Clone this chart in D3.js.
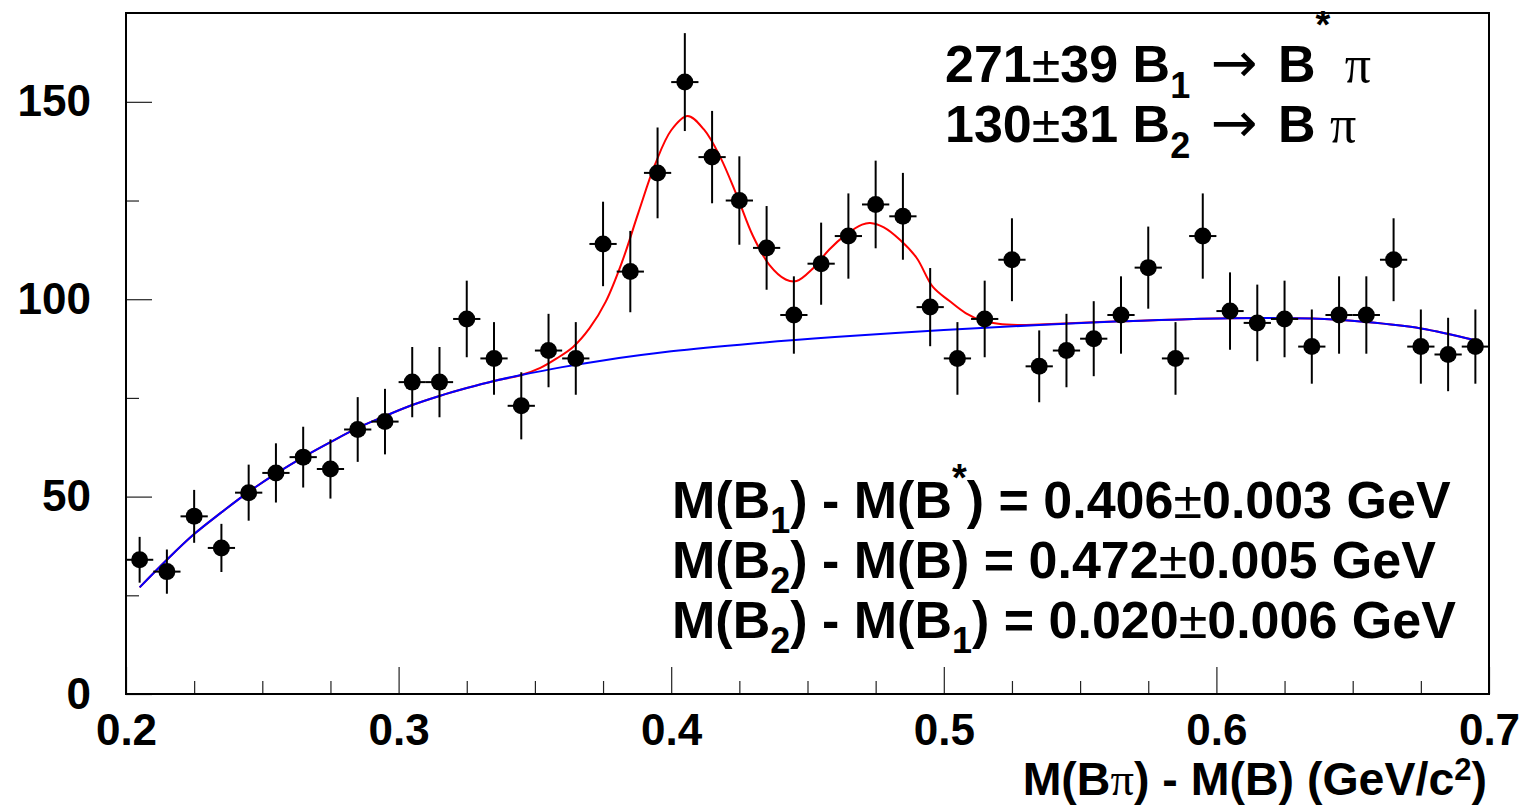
<!DOCTYPE html>
<html>
<head>
<meta charset="utf-8">
<script src="https://cdn.jsdelivr.net/npm/d3@7"></script>
<style>
  html, body { margin: 0; padding: 0; background: #fff; }
  svg { display: block; }
</style>
</head>
<body>
<svg id="chart" width="1523" height="807"></svg>
<script>
// ---- data ----
const binCenters = [0.205,0.215,0.225,0.235,0.245,0.255,0.265,0.275,0.285,0.295,
                    0.305,0.315,0.325,0.335,0.345,0.355,0.365,0.375,0.385,0.395,
                    0.405,0.415,0.425,0.435,0.445,0.455,0.465,0.475,0.485,0.495,
                    0.505,0.515,0.525,0.535,0.545,0.555,0.565,0.575,0.585,0.595,
                    0.605,0.615,0.625,0.635,0.645,0.655,0.665,0.675,0.685,0.695];
const counts = [34,31,45,37,51,56,60,57,67,69,
                79,79,95,85,73,87,85,114,107,132,
                155,136,125,113,96,109,116,124,121,98,
                85,95,110,83,87,90,96,108,85,116,
                97,94,95,88,96,96,110,88,86,88];
const countErrors = [5.8,5.6,6.7,6.1,7.1,7.5,7.7,7.5,8.2,8.3,
                     8.9,8.9,9.7,9.2,8.5,9.3,9.2,10.7,10.3,11.5,
                     12.4,11.7,11.2,10.6,9.8,10.4,10.8,11.1,11.0,9.9,
                     9.2,9.7,10.5,9.1,9.3,9.5,9.8,10.4,9.2,10.8,
                     9.8,9.7,9.7,9.4,9.8,9.8,10.5,9.4,9.3,9.4];
const binHalfWidth = 0.005;

// background fit (blue)
const bkgX = [0.205,0.215,0.225,0.235,0.245,0.255,0.265,0.275,0.285,0.295,0.305,0.315,0.325,0.335,0.345,
              0.36,0.375,0.40,0.43,0.46,0.50,0.535,0.565,0.605,0.635,0.655,0.675,0.695];
const bkgY = [27,34,40.5,46,51.2,55.8,60,63.8,67.4,70.4,73.2,75.5,77.5,79.3,80.8,
              82.8,84.5,86.8,88.8,90.4,92.2,93.5,94.4,95.2,95.1,94.2,92.6,89.6];

// total fit (red)
const totX = [0.205,0.215,0.225,0.235,0.245,0.255,0.265,0.275,0.285,0.295,0.305,0.315,0.325,0.335,0.345,
              0.352,0.358,0.364,0.370,0.376,0.382,0.388,0.394,0.400,0.406,0.412,0.418,0.424,0.430,
              0.436,0.442,0.446,0.452,0.458,0.464,0.470,0.473,0.478,0.484,0.490,0.496,0.502,0.508,
              0.514,0.520,0.527,0.535,0.565,0.605,0.635,0.655,0.675,0.695];
const totY = [27,34,40.5,46,51.2,55.8,60,63.8,67.4,70.4,73.2,75.5,77.5,79.3,80.8,
              82.6,85.0,87.9,92.6,99.4,109.5,122,134,142.8,146.4,143,136,126.4,116,
              108.7,105,104.6,107.8,112.6,116.3,118.9,119.3,118.2,115,110.5,103.1,99.6,96.5,
              94.6,93.8,93.5,93.6,94.4,95.2,95.1,94.2,92.6,89.6];

const xMajorTicks = [0.2,0.3,0.4,0.5,0.6,0.7];
const xMajorLabels = ["0.2","0.3","0.4","0.5","0.6","0.7"];
const xMinorTicks = [0.225,0.25,0.275,0.325,0.35,0.375,0.425,0.45,0.475,0.525,0.55,0.575,0.625,0.65,0.675];
const yMajorTicks = [0,50,100,150];
const yMajorLabels = ["0","50","100","150"];
const yMinorTicks = [25,75,125];

// ---- layout ----
const L = 126, R = 1489, T = 13, B = 694;
const svg = d3.select("#chart");
const x = d3.scaleLinear().domain([0.2, 0.7]).range([L, R]);
const y = d3.scaleLinear().domain([0, 172.5]).range([B, T]);

const SANS = "'Liberation Sans', Arial, Helvetica, sans-serif";
const SERIF = "'Liberation Serif', 'Times New Roman', serif";
const ARROW = "'DejaVu Sans', sans-serif";

// ticks via d3 axes
const xMajor = d3.axisBottom(x).tickValues(xMajorTicks).tickSize(-27).tickPadding(20)
  .tickFormat((d, i) => xMajorLabels[i]);
svg.append("g").attr("transform", `translate(0,${B})`).call(xMajor);
const xMinor = d3.axisBottom(x).tickValues(xMinorTicks).tickSize(-13).tickFormat("");
svg.append("g").attr("transform", `translate(0,${B})`).call(xMinor);

const yMajor = d3.axisLeft(y).tickValues(yMajorTicks).tickSize(-26).tickPadding(35)
  .tickFormat((d, i) => yMajorLabels[i]);
svg.append("g").attr("transform", `translate(${L},0)`).call(yMajor);
const yMinor = d3.axisLeft(y).tickValues(yMinorTicks).tickSize(-13).tickFormat("");
svg.append("g").attr("transform", `translate(${L},0)`).call(yMinor);

svg.selectAll(".domain").remove();
svg.selectAll(".tick line").attr("stroke", "#222").attr("stroke-width", 1.2);
svg.selectAll(".tick text")
  .attr("font-family", SANS).attr("font-weight", "bold").attr("font-size", 44).attr("fill", "#000");

// fit curves
const line = d3.line().x(d => x(d[0])).y(d => y(d[1])).curve(d3.curveCatmullRom.alpha(0.5));
svg.append("path")
  .attr("d", line(totX.map((v, i) => [v, totY[i]])))
  .attr("fill", "none").attr("stroke", "#ff0000").attr("stroke-width", 2);
svg.append("path")
  .attr("d", line(bkgX.map((v, i) => [v, bkgY[i]])))
  .attr("fill", "none").attr("stroke", "#0000ff").attr("stroke-width", 2);

// data points with error bars
const pts = svg.append("g");
binCenters.forEach((c, i) => {
  const v = counts[i], e = countErrors[i];
  pts.append("line")
    .attr("x1", x(c)).attr("x2", x(c))
    .attr("y1", y(v - e)).attr("y2", y(v + e))
    .attr("stroke", "#000").attr("stroke-width", 2);
  pts.append("line")
    .attr("x1", x(c - binHalfWidth)).attr("x2", x(c + binHalfWidth))
    .attr("y1", y(v)).attr("y2", y(v))
    .attr("stroke", "#000").attr("stroke-width", 2);
  pts.append("circle")
    .attr("cx", x(c)).attr("cy", y(v)).attr("r", 8.5).attr("fill", "#000");
});

// frame
svg.append("rect")
  .attr("x", L).attr("y", T).attr("width", R - L).attr("height", B - T)
  .attr("fill", "none").attr("stroke", "#000").attr("stroke-width", 2);

// rich text helper
function rich(xp, yp, parts, size, anchor) {
  const t = svg.append("text")
    .attr("x", xp).attr("y", yp)
    .attr("font-family", SANS).attr("font-weight", "bold")
    .attr("font-size", size).attr("fill", "#000")
    .attr("text-anchor", anchor || "start");
  let shift = 0;
  parts.forEach(p => {
    const ts = t.append("tspan").text(p.t);
    let target = 0;
    if (p.sub) target = p.sub;
    if (p.sup) target = -p.sup;
    const dy = target - shift;
    if (dy !== 0) ts.attr("dy", dy);
    shift = target;
    if (p.dx) ts.attr("dx", p.dx);
    if (p.size) ts.attr("font-size", p.size);
    if (p.serif) ts.attr("font-family", SERIF).attr("font-weight", "normal");
    if (p.arrow) ts.attr("font-family", ARROW).attr("font-weight", "normal");
    if (p.light) ts.attr("font-weight", "normal");
  });
  return t;
}

const S = 52, SS = 36;
rich(945, 82, [
  {t: "271"}, {t: "±", light: true}, {t: "39 B"}, {t: "1", sub: 16, size: SS},
  {t: " "}, {t: "→", arrow: true, size: 56, dx: 6}, {t: " B", dx: 6}, {t: "*", sup: 44, size: 38},
  {t: " "}, {t: "π", serif: true}
], S);
rich(945, 142, [
  {t: "130"}, {t: "±", light: true}, {t: "31 B"}, {t: "2", sub: 16, size: SS},
  {t: " "}, {t: "→", arrow: true, size: 56, dx: 6}, {t: " B ", dx: 6}, {t: "π", serif: true}
], S);

rich(672, 518, [
  {t: "M(B"}, {t: "1", sub: 15, size: SS}, {t: ") - M(B"}, {t: "*", sup: 27, size: 38},
  {t: ") = 0.406"}, {t: "±", light: true}, {t: "0.003 GeV"}
], S);
rich(672, 578, [
  {t: "M(B"}, {t: "2", sub: 15, size: SS}, {t: ") - M(B) = 0.472"}, {t: "±", light: true},
  {t: "0.005 GeV"}
], S);
rich(672, 638, [
  {t: "M(B"}, {t: "2", sub: 15, size: SS}, {t: ") - M(B"}, {t: "1", sub: 15, size: SS},
  {t: ") = 0.020"}, {t: "±", light: true}, {t: "0.006 GeV"}
], S);

// x-axis title
rich(1487, 795, [
  {t: "M(B"}, {t: "π", serif: true}, {t: ") - M(B) (GeV/c"}, {t: "2", sup: 15, size: 31}, {t: ")"}
], 46.5, "end");
</script>
</body>
</html>
